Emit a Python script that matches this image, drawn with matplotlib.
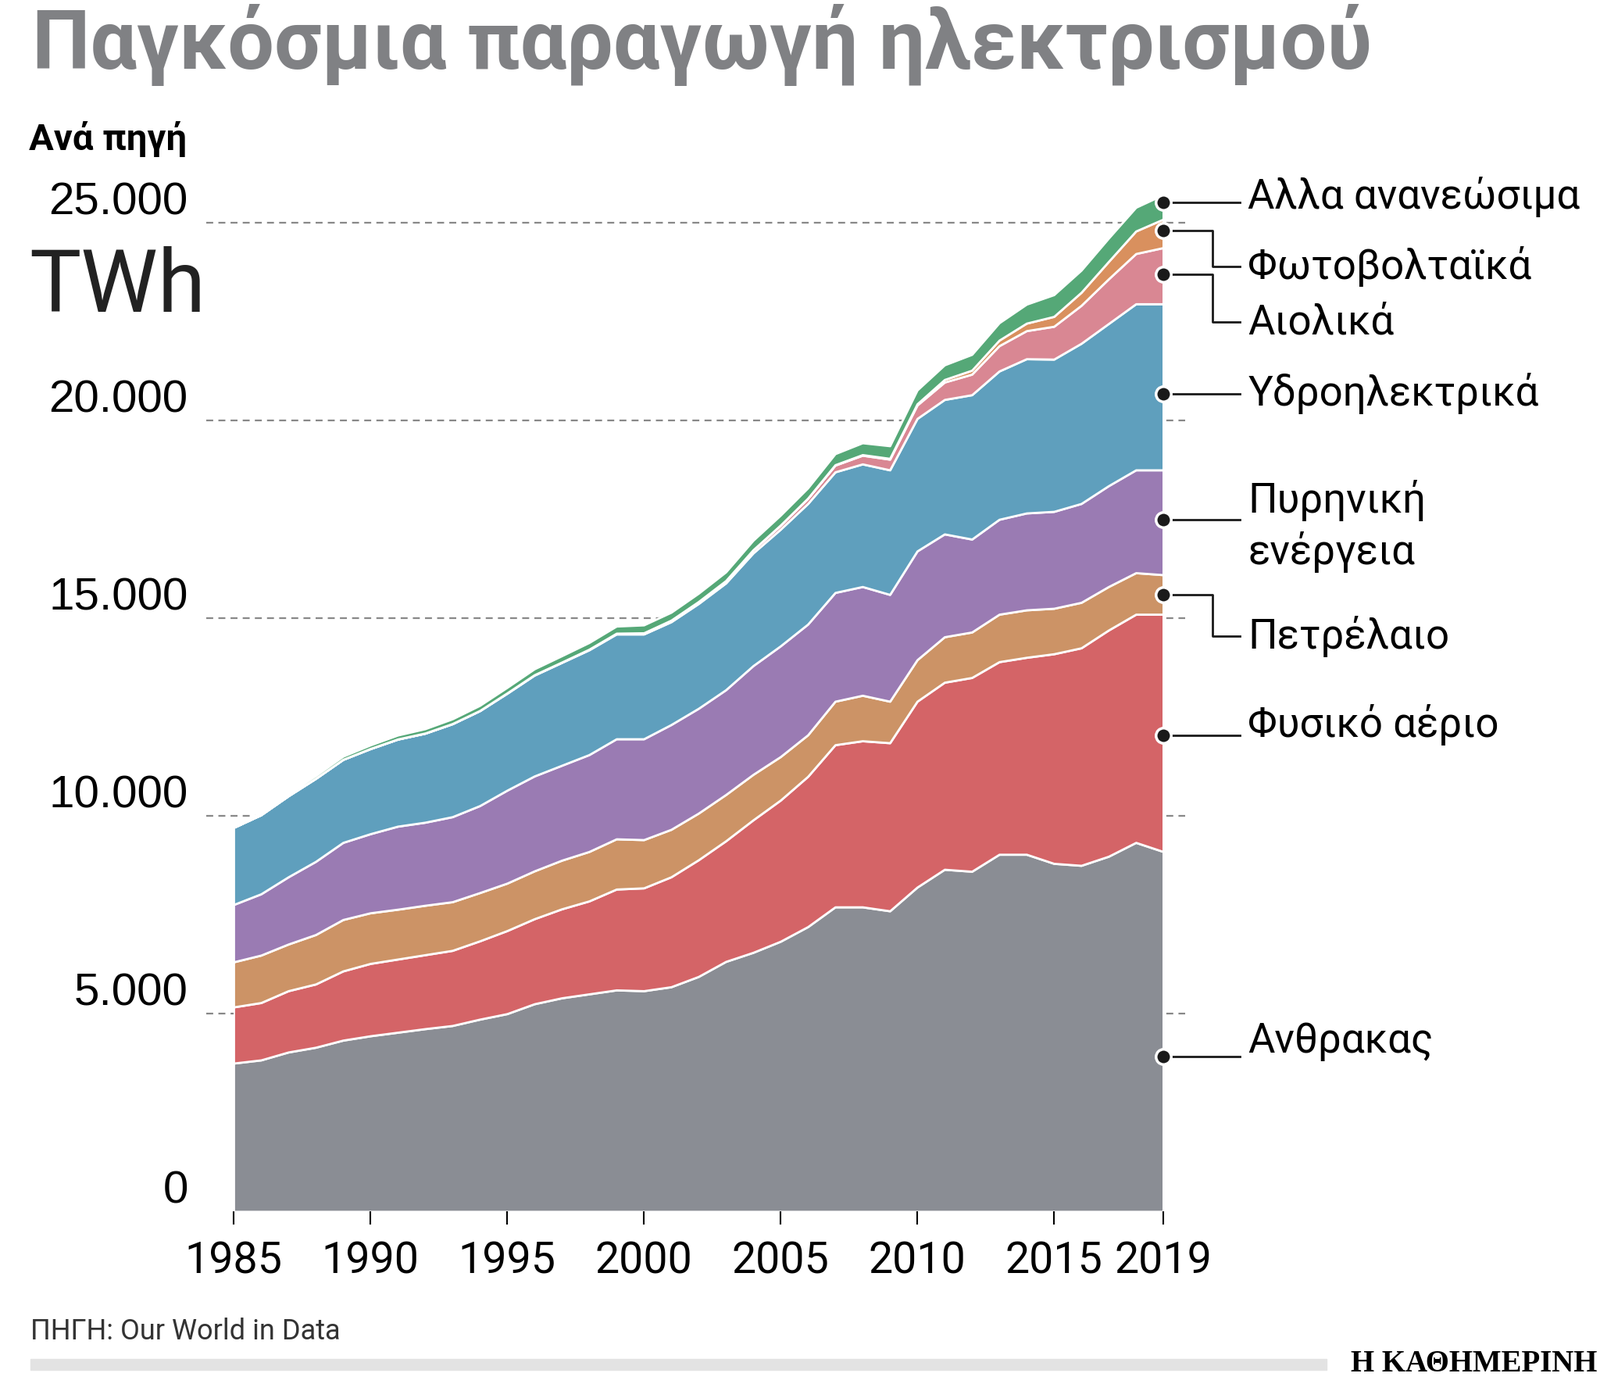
import numpy as np
import matplotlib.pyplot as plt

years = np.arange(1985, 2020)
coal = [3750, 3830, 4030, 4150, 4330, 4440, 4530, 4620, 4700, 4860, 5000, 5250, 5400, 5500, 5600,
        5580, 5680, 5940, 6320, 6550, 6830, 7200, 7700, 7700, 7600, 8200, 8650, 8600, 9030, 9030,
        8800, 8750, 8980, 9330, 9100]
gas = [1420, 1450, 1550, 1600, 1750, 1830, 1850, 1870, 1900, 1980, 2100, 2150, 2250, 2350, 2550,
       2600, 2780, 2950, 3050, 3350, 3570, 3800, 4100, 4200, 4250, 4700, 4730, 4900, 4870, 4980,
       5300, 5500, 5720, 5770, 6000]
oil = [1140, 1200, 1180, 1250, 1300, 1280, 1260, 1250, 1230, 1220, 1200, 1210, 1230, 1250, 1270,
       1220, 1200, 1180, 1170, 1150, 1100, 1050, 1100, 1150, 1050, 1050, 1150, 1150, 1200, 1200,
       1150, 1150, 1100, 1050, 1000]
nuclear = [1450, 1550, 1700, 1850, 1950, 2000, 2100, 2100, 2150, 2200, 2350, 2400, 2400, 2450, 2530,
           2550, 2650, 2650, 2650, 2750, 2800, 2800, 2750, 2750, 2700, 2750, 2600, 2350, 2400, 2450,
           2450, 2500, 2550, 2600, 2650]
hydro = [1950, 2000, 2050, 2100, 2100, 2150, 2200, 2250, 2350, 2400, 2450, 2550, 2600, 2650, 2650,
         2650, 2600, 2650, 2700, 2850, 2950, 3050, 3050, 3100, 3150, 3350, 3400, 3650, 3750, 3900,
         3850, 4050, 4100, 4200, 4200]
wind = [0, 0, 0, 0, 0, 5, 5, 5, 5, 5, 10, 10, 10, 15, 20,
        30, 40, 50, 60, 80, 100, 130, 170, 220, 270, 340, 440, 520, 640, 710,
        830, 960, 1130, 1270, 1420]
solar = [0, 0, 0, 0, 0, 0, 0, 0, 0, 0, 0, 0, 0, 0, 0,
         0, 0, 0, 0, 0, 5, 5, 10, 15, 20, 30, 65, 100, 140, 190,
         250, 330, 440, 570, 720]
other = [50, 55, 60, 70, 80, 90, 100, 110, 120, 130, 140, 150, 160, 170, 180,
         200, 200, 210, 220, 240, 250, 260, 280, 300, 320, 350, 370, 400, 440, 480,
         550, 560, 590, 600, 620]

series = [coal, gas, oil, nuclear, hydro, wind, solar, other]
colors = ['#8a8d94', '#d46467', '#cc9366', '#9a7bb3', '#5f9fbd', '#d98793', '#d9905e', '#55a877']

fig = plt.figure(figsize=(20.48, 17.81), dpi=100)
ax = fig.add_axes([0.146, 0.129, 0.581, 0.7388])
ax.stackplot(years, *series, colors=colors, edgecolor='white', linewidth=2)
ax.set_xlim(1985, 2019)
ax.set_ylim(0, 26000)
for s in ax.spines.values():
    s.set_visible(False)

for v in [5000, 10000, 15000, 20000, 25000]:
    ax.plot([1984.0, 2019.8], [v, v], ls=(0, (4, 3)), color='#888888', lw=1.6, clip_on=False, zorder=0.5)

yt = [0, 5000, 10000, 15000, 20000, 25000]
ylab = ['0', '5.000', '10.000', '15.000', '20.000', '25.000']
ax.set_yticks(yt)
ax.set_yticklabels(ylab, fontsize=42, fontfamily='Liberation Sans')
ax.tick_params(axis='y', length=0, pad=42)
for lab in ax.get_yticklabels():
    lab.set_verticalalignment('bottom')
xt = [1985, 1990, 1995, 2000, 2005, 2010, 2015, 2019]
ax.set_xticks(xt)
ax.set_xticklabels([str(x) for x in xt], fontsize=40, fontfamily='Roboto')
ax.tick_params(axis='x', length=12, width=1.5, pad=14)

fig.text(0.02, 0.997, 'Παγκόσμια παραγωγή ηλεκτρισμού', fontsize=76, fontweight='bold',
         color='#808184', va='top', fontfamily='Roboto')
fig.text(0.018, 0.9, 'Ανά πηγή', fontsize=34, fontweight='bold', va='center', fontfamily='Roboto')
fig.text(0.018, 0.793, 'TWh', fontsize=80, va='center', fontfamily='Roboto', color='#222222')

# right labels: (name, dot y, text y, elbow)
labels = [('Αλλα ανανεώσιμα', 25520, 25670, False),
          ('Φωτοβολταϊκά', 24800, 23900, True),
          ('Αιολικά', 23690, 22500, True),
          ('Υδροηλεκτρικά', 20670, 20700, False),
          ('Πυρηνική\nενέργεια', 17500, 17350, False),
          ('Πετρέλαιο', 15590, 14550, True),
          ('Φυσικό αέριο', 12030, 12330, False),
          ('Ανθρακας', 3920, 4330, False)]
for name, dy, ty, elbow in labels:
    ax.plot(2019, dy, 'o', ms=14, mfc='#1a1a1a', mec='white', mew=2.5, clip_on=False, zorder=5)
    if elbow:
        ax.plot([2019, 2020.8, 2020.8, 2021.8], [dy, dy, ty, ty], color='#1a1a1a', lw=2, clip_on=False)
    else:
        ax.plot([2019, 2021.8], [dy, dy], color='#1a1a1a', lw=2, clip_on=False)
    ax.text(2022.1, ty, name, fontsize=38, va='center', fontfamily='Roboto', linespacing=1.3,
            clip_on=False)

fig.text(0.019, 0.043, 'ΠΗΓΗ: Our World in Data', fontsize=26, color='#333333', va='center',
         fontfamily='Roboto')
fig.patches.append(plt.Rectangle((0.019, 0.015), 0.81, 0.008, transform=fig.transFigure,
                                 color='#e3e3e3'))
fig.text(0.998, 0.02, 'Η ΚΑΘΗΜΕΡΙΝΗ', fontsize=28, fontweight='bold', ha='right', va='center',
         fontfamily='Liberation Serif')

fig.savefig('out.png', dpi=100)
